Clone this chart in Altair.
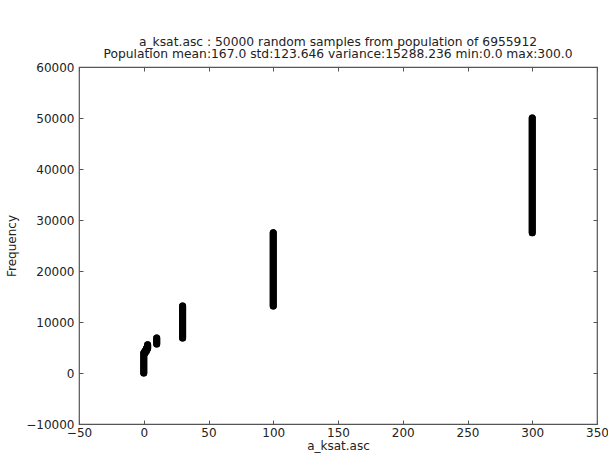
import altair as alt
import pandas as pd

# Sample values (x) and the range of cumulative sample index (y) they span
values = [0, 1, 2, 3, 10, 30, 100, 300]
freq_low = [0, 3900, 4300, 4800, 5700, 6850, 13150, 27500]
freq_high = [3900, 4300, 4800, 5550, 6850, 13150, 27500, 50000]

x_ticks = [-50, 0, 50, 100, 150, 200, 250, 300, 350]
y_ticks = [-10000, 0, 10000, 20000, 30000, 40000, 50000, 60000]

title_lines = [
    "a_ksat.asc : 50000 random samples from population of 6955912",
    "Population mean:167.0 std:123.646 variance:15288.236 min:0.0 max:300.0",
]

df = pd.DataFrame({"value": values, "lo": freq_low, "hi": freq_high})

FONT = "DejaVu Sans"
AX = "#555555"

xscale = alt.Scale(domain=[-50, 350], nice=False, zero=False)
yscale = alt.Scale(domain=[-10000, 60000], nice=False, zero=False)

common_axis = dict(
    domain=False, grid=False, tickSize=4, offset=-4, tickColor=AX, tickWidth=1,
    labelFont=FONT, labelFontSize=12, labelColor="#222222", labelFlush=False,
    labelOverlap=False,
    titleFont=FONT, titleFontSize=12, titleFontWeight="normal", titleColor="#222222",
)

main = alt.Chart(df).mark_rule(color="black", strokeWidth=7, strokeCap="round").encode(
    x=alt.X("value:Q", scale=xscale,
            axis=alt.Axis(orient="bottom", values=x_ticks, title="a_ksat.asc",
                          labelPadding=3, titlePadding=2, format="d", **common_axis)),
    y=alt.Y("lo:Q", scale=yscale,
            axis=alt.Axis(orient="left", values=y_ticks, title="Frequency",
                          labelPadding=5, titlePadding=7, format="d", **common_axis)),
    y2="hi:Q",
)

frame = alt.Chart(df).mark_rule(color="black", strokeWidth=7, strokeCap="round").encode(
    x=alt.X("value:Q", scale=xscale,
            axis=alt.Axis(orient="top", values=x_ticks, title=None, labels=False,
                          **common_axis)),
    y=alt.Y("lo:Q", scale=yscale,
            axis=alt.Axis(orient="right", values=y_ticks, title=None, labels=False,
                          **common_axis)),
    y2="hi:Q",
)

chart = alt.layer(main, frame).resolve_axis(x="independent", y="independent").properties(
    width=518,
    height=357,
    autosize=alt.AutoSizeParams(type="none"),
    padding={"left": 79, "top": 67, "right": 11, "bottom": 29},
    title=alt.TitleParams(
        text=title_lines, font=FONT, fontSize=12.3, fontWeight="normal", color="#222222",
        anchor="middle", frame="group", offset=1, lineHeight=12,
    ),
    background="white",
).configure_view(stroke=AX, strokeWidth=1.2)

chart.save("out.html", embed_options={"renderer": "svg", "actions": False})
